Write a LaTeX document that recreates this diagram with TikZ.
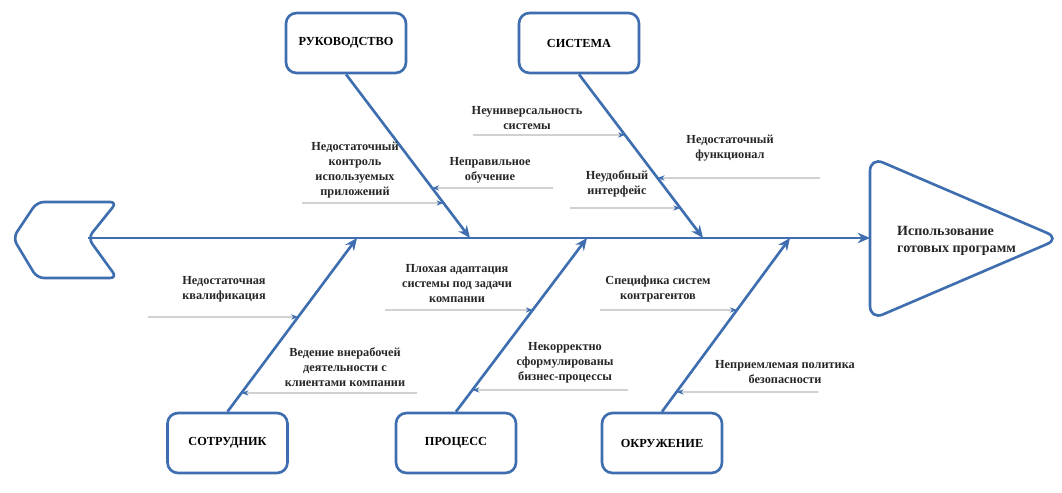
\documentclass[tikz,border=0pt]{standalone}
\usepackage{fontspec}
\setmainfont{Liberation Serif}
\usepackage{tikz}
\usetikzlibrary{positioning,
                arrows.meta}                % arrow tips

\definecolor{fishblue}{RGB}{62,110,175}

\begin{document}
\begin{tikzpicture}[
    box/.style={draw=fishblue, line width=1.5pt, rounded corners=6pt, fill=white,
        minimum width=2.4cm, minimum height=1.2cm, font=\bfseries\fontsize{7}{8.5}\selectfont},
    bone/.style={draw=fishblue, line width=1.5pt, -{Stealth[length=7pt,width=6pt]}},
    twig/.style={draw=gray!55, line width=0.6pt, -{Stealth[length=4pt,width=3pt,fishblue]}},
    cause/.style={font=\bfseries\fontsize{7}{8.5}\selectfont, align=center, anchor=south,
        inner sep=1pt, text=black!85},
    ]
    \useasboundingbox (0,0) rectangle (21.24,9.84);

    % tail and head of the fish
    \draw[fishblue, line width=1.5pt, rounded corners=4pt]
        (1.5,5.80) -- (0.74,5.80) -- (0.26,5.08) -- (0.74,4.28) -- (2.34,4.28)
        -- (1.76,5.08) -- (2.34,5.80) -- cycle;
    \draw[fishblue, line width=1.5pt, rounded corners=8pt]
        (17.4,5.07) -- (17.4,6.70) -- (21.2,5.07) -- (17.4,3.44) -- cycle;
    \coordinate (tail) at (1.76,5.08);
    \coordinate (head) at (17.4,5.08);
    \node[align=left, anchor=west, font=\bfseries\fontsize{8}{9.5}\selectfont, text=black!85]
        (effect) at (17.82,5.02) {Использование\\готовых программ};
    \draw[bone] (tail) -- (head);

    % categories
    \node[box] (ruk) at (6.92,8.98) {РУКОВОДСТВО};
    \node[box] (sis) at (11.58,8.98) {СИСТЕМА};
    \node[box] (sot) at (4.55,0.98) {СОТРУДНИК};
    \node[box] (pro) at (9.12,0.98) {ПРОЦЕСС};
    \node[box] (okr) at (13.24,0.98) {ОКРУЖЕНИЕ};

    \coordinate (r1) at (9.40,5.08);
    \coordinate (r2) at (14.06,5.08);
    \coordinate (r3) at (7.14,5.08);
    \coordinate (r4) at (11.74,5.08);
    \coordinate (r5) at (15.80,5.08);
    \draw[bone] (ruk.south) -- (r1);
    \draw[bone] (sis.south) -- (r2);
    \draw[bone] (sot.north) -- (r3);
    \draw[bone] (pro.north) -- (r4);
    \draw[bone] (okr.north) -- (r5);

    % causes
    \coordinate (k1) at (intersection of ruk.south--r1 and 0,5.78--1,5.78);
    \coordinate (k1f) at (6.04,5.78);
    \draw[twig] (k1f) -- (k1);
    \node[cause] (c1) at (7.10,5.84) {Недостаточный\\контроль\\используемых\\приложений};

    \coordinate (k2) at (intersection of ruk.south--r1 and 0,6.08--1,6.08);
    \coordinate (k2f) at (11.06,6.08);
    \draw[twig] (k2f) -- (k2);
    \node[cause] (c2) at (9.80,6.14) {Неправильное\\обучение};

    \coordinate (k3) at (intersection of sis.south--r2 and 0,7.14--1,7.14);
    \coordinate (k3f) at (9.46,7.14);
    \draw[twig] (k3f) -- (k3);
    \node[cause] (c3) at (10.54,7.20) {Неуниверсальность\\системы};

    \coordinate (k4) at (intersection of sis.south--r2 and 0,6.28--1,6.28);
    \coordinate (k4f) at (16.40,6.28);
    \draw[twig] (k4f) -- (k4);
    \node[cause] (c4) at (14.60,6.58) {Недостаточный\\функционал};

    \coordinate (k5) at (intersection of sis.south--r2 and 0,5.68--1,5.68);
    \coordinate (k5f) at (11.40,5.68);
    \draw[twig] (k5f) -- (k5);
    \node[cause] (c5) at (12.34,5.86) {Неудобный\\интерфейс};

    \coordinate (k6) at (intersection of sot.north--r3 and 0,3.50--1,3.50);
    \coordinate (k6f) at (2.96,3.50);
    \draw[twig] (k6f) -- (k6);
    \node[cause] (c6) at (4.48,3.76) {Недостаточная\\квалификация};

    \coordinate (k7) at (intersection of sot.north--r3 and 0,1.98--1,1.98);
    \coordinate (k7f) at (8.34,1.98);
    \draw[twig] (k7f) -- (k7);
    \node[cause] (c7) at (6.90,2.06) {Ведение внерабочей\\деятельности с\\клиентами компании};

    \coordinate (k8) at (intersection of pro.north--r4 and 0,3.64--1,3.64);
    \coordinate (k8f) at (7.70,3.64);
    \draw[twig] (k8f) -- (k8);
    \node[cause] (c8) at (9.14,3.74) {Плохая адаптация\\системы под задачи\\компании};

    \coordinate (k9) at (intersection of pro.north--r4 and 0,2.04--1,2.04);
    \coordinate (k9f) at (12.56,2.04);
    \draw[twig] (k9f) -- (k9);
    \node[cause] (c9) at (11.30,2.14) {Некорректно\\сформулированы\\бизнес-процессы};

    \coordinate (k10) at (intersection of okr.north--r5 and 0,3.64--1,3.64);
    \coordinate (k10f) at (12.00,3.64);
    \draw[twig] (k10f) -- (k10);
    \node[cause] (c10) at (13.16,3.76) {Специфика систем\\контрагентов};

    \coordinate (k11) at (intersection of okr.north--r5 and 0,2.00--1,2.00);
    \coordinate (k11f) at (16.36,2.00);
    \draw[twig] (k11f) -- (k11);
    \node[cause] (c11) at (15.70,2.12) {Неприемлемая политика\\безопасности};
\end{tikzpicture}
\end{document}
